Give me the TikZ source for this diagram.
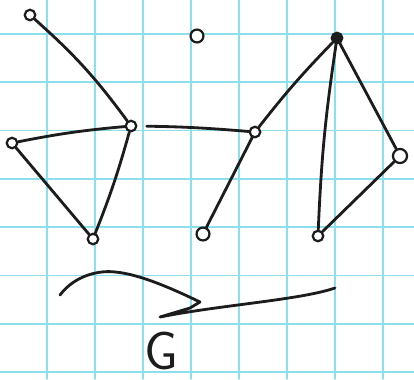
\documentclass[tikz,border=0pt]{standalone}
\definecolor{gcyan}{RGB}{140,224,238}
\definecolor{ink}{RGB}{28,28,28}
\tikzset{sketch/.style={x=0.03cm,y=-0.03cm,line width=2.4pt,line cap=round,line join=round},
  vtx/.style={circle,draw=ink,fill=white,line width=1.9pt,inner sep=0pt,minimum size=9pt},
  edge/.style={draw=ink}}

\begin{document}
\begin{tikzpicture}[sketch]
    \useasboundingbox (0,0) rectangle (414,379);
    \fill[white] (0,0) rectangle (414,379);
    \foreach \x in {0,...,7} \draw[gcyan,line width=1.4pt] ({47+48*\x},0) -- ({47+48*\x},379);
    \foreach \y in {0,...,7} \draw[gcyan,line width=1.4pt] (0,{34+48.3*\y}) -- (414,{34+48.3*\y});
    % vertices
    \node[vtx] (tl)   at (30,15)   {};
    \node[vtx,minimum size=11pt] (iso)  at (197,36)  {};
    \node[vtx] (lft)  at (12,143)  {};
    \node[vtx] (hub)  at (131,126) {};
    \node[vtx] (bl)   at (93,239)  {};
    \node[vtx] (mid)  at (255,132) {};
    \node[vtx,minimum size=11pt] (bm) at (203,234) {};
    \node[vtx,fill=ink] (apex) at (337,38) {};
    \node[vtx,minimum size=12pt] (rgt) at (400,156) {};
    \node[vtx] (br)   at (318,236) {};
    % edges
    \draw[edge] (tl) to[bend left=6] (hub);
    \draw[edge] (lft) to[bend left=3] (hub);
    \draw[edge] (lft) -- (bl);
    \draw[edge] (hub) to[bend left=3] (bl);
    \draw[edge,shorten <=8pt] (hub) to[bend left=2] (mid);
    \draw[edge] (mid) -- (bm);
    \draw[edge] (mid) to[bend left=3] (apex);
    \draw[edge] (apex) to[bend right=3] (br);
    \draw[edge] (apex) -- (rgt);
    \draw[edge] (rgt) -- (br);
    % squiggle
    \draw[ink] (60,295) .. controls (75,275) and (100,270) .. (115,272)
      .. controls (140,274) and (175,290) .. (200,302)
      -- (190,308) -- (160,317)
      .. controls (220,305) and (300,300) .. (335,288);
    \node[ink,inner sep=0pt,font=\sffamily\fontsize{46}{46}\selectfont] (lbl) at (161,351) {G};
  \end{tikzpicture}
\end{document}
